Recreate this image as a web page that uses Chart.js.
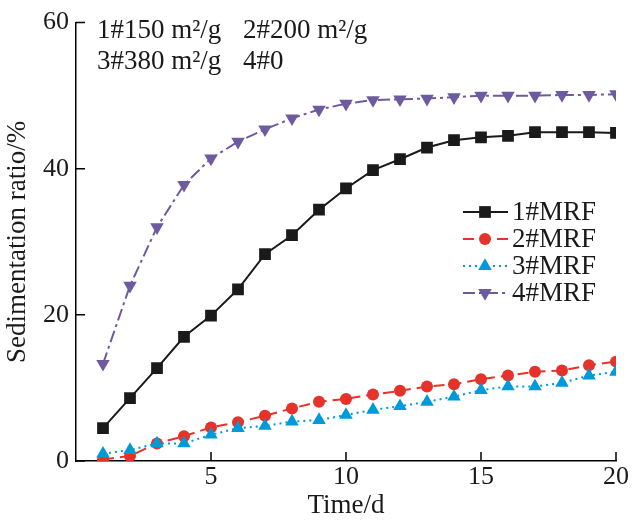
<!DOCTYPE html>
<html>
<head>
<meta charset="utf-8">
<script src="https://cdn.jsdelivr.net/npm/chart.js@4"></script>
<style>
html,body{margin:0;padding:0;background:#fff;}
#wrap{width:632px;height:522px;}
</style>
</head>
<body>
<div id="wrap"><canvas id="c" width="632" height="522"></canvas></div>
<script>
const days = [1,2,3,4,5,6,7,8,9,10,11,12,13,14,15,16,17,18,19,20];
const mrf1 = [4.5, 8.6, 12.7, 17.0, 19.9, 23.5, 28.3, 30.9, 34.4, 37.3, 39.8, 41.3, 42.9, 43.9, 44.3, 44.5, 45.0, 45.0, 45.0, 44.9];
const mrf2 = [0.2, 0.7, 2.4, 3.4, 4.6, 5.3, 6.2, 7.2, 8.1, 8.5, 9.1, 9.6, 10.2, 10.5, 11.2, 11.7, 12.2, 12.4, 13.1, 13.6];
const mrf3 = [1.0, 1.5, 2.4, 2.4, 3.6, 4.5, 4.8, 5.4, 5.6, 6.3, 7.0, 7.5, 8.1, 8.8, 9.7, 10.2, 10.2, 10.7, 11.7, 12.2];
const mrf4 = [13.3, 24.0, 32.0, 37.8, 41.4, 43.7, 45.4, 46.9, 48.1, 48.9, 49.4, 49.5, 49.6, 49.8, 50.0, 50.0, 50.0, 50.1, 50.1, 50.2];
const seriesNames = ['1#MRF','2#MRF','3#MRF','4#MRF'];
const xTicks = [5,10,15,20];
const yTicks = [0,20,40,60];
const noteLines = [['1#150 m²/g','2#200 m²/g'],['3#380 m²/g','4#0']];

const FONT = '"Liberation Serif", "Times New Roman", serif';
const toXY = arr => arr.map((v,i)=>({x:days[i], y:v}));

const styles = [
  {color:'#1a1a1a', dash:[], point:'rect', r:8.3, rot:0},
  {color:'#e5322b', dash:[11,6], point:'circle', r:6, rot:0},
  {color:'#009ad8', dash:[2,4], point:'triangle', r:7.8, rot:0},
  {color:'#6e5a9e', dash:[12,4,3,4], point:'triangle', r:7.8, rot:180}
];
const dataArr = [mrf1, mrf2, mrf3, mrf4];

const datasets = dataArr.map((d,i)=>({
  label: seriesNames[i],
  data: toXY(d),
  borderColor: styles[i].color,
  backgroundColor: styles[i].color,
  borderWidth: 2,
  borderDash: styles[i].dash,
  pointStyle: styles[i].point,
  pointRadius: styles[i].r,
  pointRotation: styles[i].rot,
  pointBorderWidth: 0,
  pointBackgroundColor: styles[i].color,
  tension: 0,
  order: 4 - i
}));

const extras = {
  id:'extras',
  afterDraw(chart){
    const ctx = chart.ctx;
    const xs = chart.scales.x, ys = chart.scales.y;
    ctx.save();
    ctx.strokeStyle = '#000';
    ctx.lineWidth = 1.5;
    ctx.setLineDash([]);
    ctx.beginPath();
    xTicks.forEach(t=>{
      const px = xs.getPixelForValue(t);
      ctx.moveTo(px, ys.bottom);
      ctx.lineTo(px, ys.bottom - 9);
    });
    yTicks.forEach(t=>{
      const py = ys.getPixelForValue(t);
      ctx.moveTo(xs.left, py);
      ctx.lineTo(xs.left + 9, py);
    });
    ctx.stroke();

    // notes
    ctx.fillStyle = '#1a1a1a';
    ctx.font = '27px ' + FONT;
    ctx.textBaseline = 'middle';
    ctx.textAlign = 'left';
    noteLines.forEach((line,li)=>{
      const y = 31 + li*31;
      ctx.fillText(line[0], 97, y);
      ctx.fillText(line[1], 243, y);
    });

    // legend
    const rows = [212, 239, 266, 293];
    chart.data.datasets.forEach((ds,i)=>{
      const y = rows[i];
      ctx.save();
      ctx.strokeStyle = ds.borderColor;
      ctx.lineWidth = 2;
      ctx.setLineDash(ds.borderDash);
      ctx.beginPath();
      ctx.moveTo(463, y);
      ctx.lineTo(508, y);
      ctx.stroke();
      ctx.setLineDash([]);
      ctx.fillStyle = ds.pointBackgroundColor;
      Chart.helpers.drawPoint(ctx, {pointStyle: ds.pointStyle, rotation: ds.pointRotation, borderWidth: 0, radius: ds.pointRadius}, 485, y);
      ctx.restore();
      ctx.save();
      ctx.fillStyle = '#1a1a1a';
      ctx.font = '27px ' + FONT;
      ctx.textBaseline = 'middle';
      ctx.fillText(ds.label, 512, y + 1);
      ctx.restore();
    });
    ctx.restore();
  }
};

new Chart(document.getElementById('c'), {
  type: 'line',
  data: { datasets },
  options: {
    responsive: false,
    animation: false,
    devicePixelRatio: 1,
    layout: { padding: { top: 22, right: 16, left: 0, bottom: 0 } },
    plugins: { legend: { display: false }, tooltip: { enabled: false } },
    scales: {
      x: {
        type: 'linear', min: 0, max: 20,
        afterFit: s => { s.height = 61; },
        grid: { display: false, drawTicks: false },
        border: { display: true, color: '#000', width: 1.5 },
        ticks: { stepSize: 5, padding: 1, color: '#1a1a1a', font: { family: FONT, size: 26 },
          callback: v => (v === 0 ? '' : v) },
        title: { display: true, text: 'Time/d', color: '#1a1a1a', font: { family: FONT, size: 27 }, padding: { top: 0, bottom: 0 } }
      },
      y: {
        type: 'linear', min: 0, max: 60,
        afterFit: s => { s.width = 76; },
        grid: { display: false, drawTicks: false },
        border: { display: true, color: '#000', width: 1.5 },
        ticks: { stepSize: 20, padding: 7, color: '#1a1a1a', font: { family: FONT, size: 26 } },
        title: { display: true, text: 'Sedimentation ratio/%', color: '#1a1a1a', font: { family: FONT, size: 27 }, padding: { top: 2, bottom: 0 } }
      }
    }
  },
  plugins: [extras]
});
</script>
</body>
</html>
